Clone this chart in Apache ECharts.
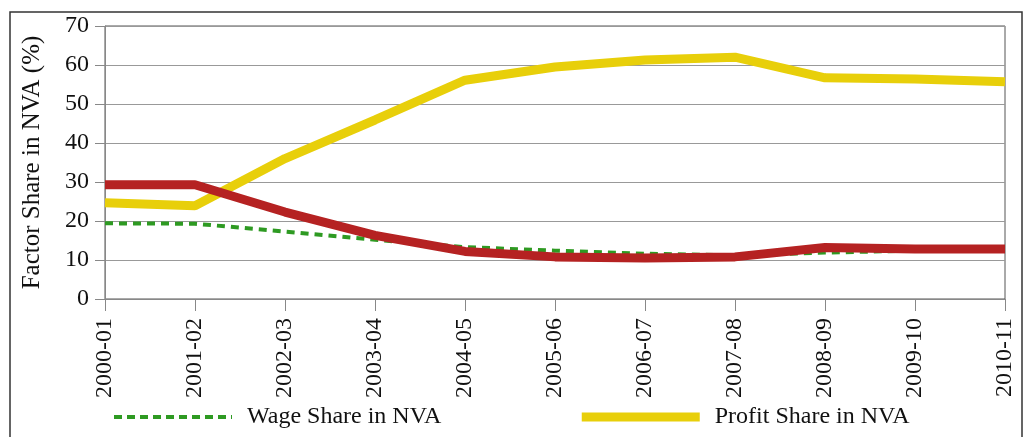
<!DOCTYPE html>
<html>
<head>
<meta charset="utf-8">
<script src="https://cdn.jsdelivr.net/npm/echarts@6/dist/echarts.min.js"></script>
<style>html,body{margin:0;padding:0;background:#fff;}#c{width:1032px;height:437px;}</style>
</head>
<body>
<div id="c"></div>
<script>
var categories = ['2000-01','2001-02','2002-03','2003-04','2004-05','2005-06','2006-07','2007-08','2008-09','2009-10','2010-11'];
var wageShare = [19.4, 19.3, 17.3, 15.2, 13.3, 12.4, 11.6, 11.2, 11.9, 12.4, 12.8];
var profitShare = [24.7, 23.9, 36.0, 45.9, 56.1, 59.5, 61.3, 62.0, 56.7, 56.4, 55.7];
var otherShare = [29.3, 29.3, 22.3, 16.3, 12.2, 10.8, 10.5, 10.8, 13.2, 12.8, 12.8];
var yTicks = [0, 10, 20, 30, 40, 50, 60, 70];

var serif = "'Liberation Serif', 'DejaVu Serif', serif";
var chart = echarts.init(document.getElementById('c'));
chart.setOption({
  backgroundColor: '#ffffff',
  animation: false,
  graphic: [{
    type: 'polyline',
    shape: { points: [[10, 445], [10, 12], [1022, 12], [1022, 445]] },
    style: { stroke: '#333', lineWidth: 1.5, fill: null },
    silent: true
  }],
  grid: { left: 105, right: 27, top: 26, bottom: 138, show: true, borderColor: '#555', borderWidth: 1 },
  legend: {
    data: [
      { name: 'Wage Share in NVA', lineStyle: { width: 4, type: [8, 5] } },
      { name: 'Profit Share in NVA', lineStyle: { width: 9 } }
    ],
    left: 107, top: 400,
    itemWidth: 118, itemHeight: 14, itemGap: 136,
    itemStyle: { opacity: 0 },
    textStyle: { fontFamily: serif, fontSize: 24, color: '#111', padding: [0, 0, 0, 10] }
  },
  xAxis: {
    type: 'category',
    data: categories,
    boundaryGap: false,
    axisLine: { lineStyle: { color: '#888', width: 1 } },
    axisTick: { show: true, length: 12, lineStyle: { color: '#888' } },
    axisLabel: { rotate: 90, fontFamily: serif, fontSize: 24, color: '#111', margin: 19 },
    splitLine: { show: false }
  },
  yAxis: {
    type: 'value',
    min: yTicks[0], max: yTicks[yTicks.length - 1], interval: 10,
    name: 'Factor Share in NVA (%)',
    nameLocation: 'middle', nameGap: 60,
    nameTextStyle: { fontFamily: serif, fontSize: 25, color: '#111' },
    axisLine: { show: true, lineStyle: { color: '#888', width: 1 } },
    axisTick: { show: true, length: 10, lineStyle: { color: '#888' } },
    axisLabel: { fontFamily: serif, fontSize: 24, color: '#111', margin: 16 },
    splitLine: { show: true, lineStyle: { color: '#999', width: 1 } }
  },
  series: [
    {
      name: 'Interest Share in NVA', type: 'line', data: otherShare,
      symbol: 'none', z: 4,
      lineStyle: { color: '#B52222', width: 9 },
      itemStyle: { color: '#B52222' }
    },
    {
      name: 'Wage Share in NVA', type: 'line', data: wageShare,
      symbol: 'none', z: 3,
      lineStyle: { color: '#2E9A22', width: 4, type: [8, 6] },
      itemStyle: { color: '#2E9A22' }
    },
    {
      name: 'Profit Share in NVA', type: 'line', data: profitShare,
      symbol: 'none', z: 2,
      lineStyle: { color: '#E8CF0A', width: 9 },
      itemStyle: { color: '#E8CF0A' }
    }
  ]
});
</script>
</body>
</html>
